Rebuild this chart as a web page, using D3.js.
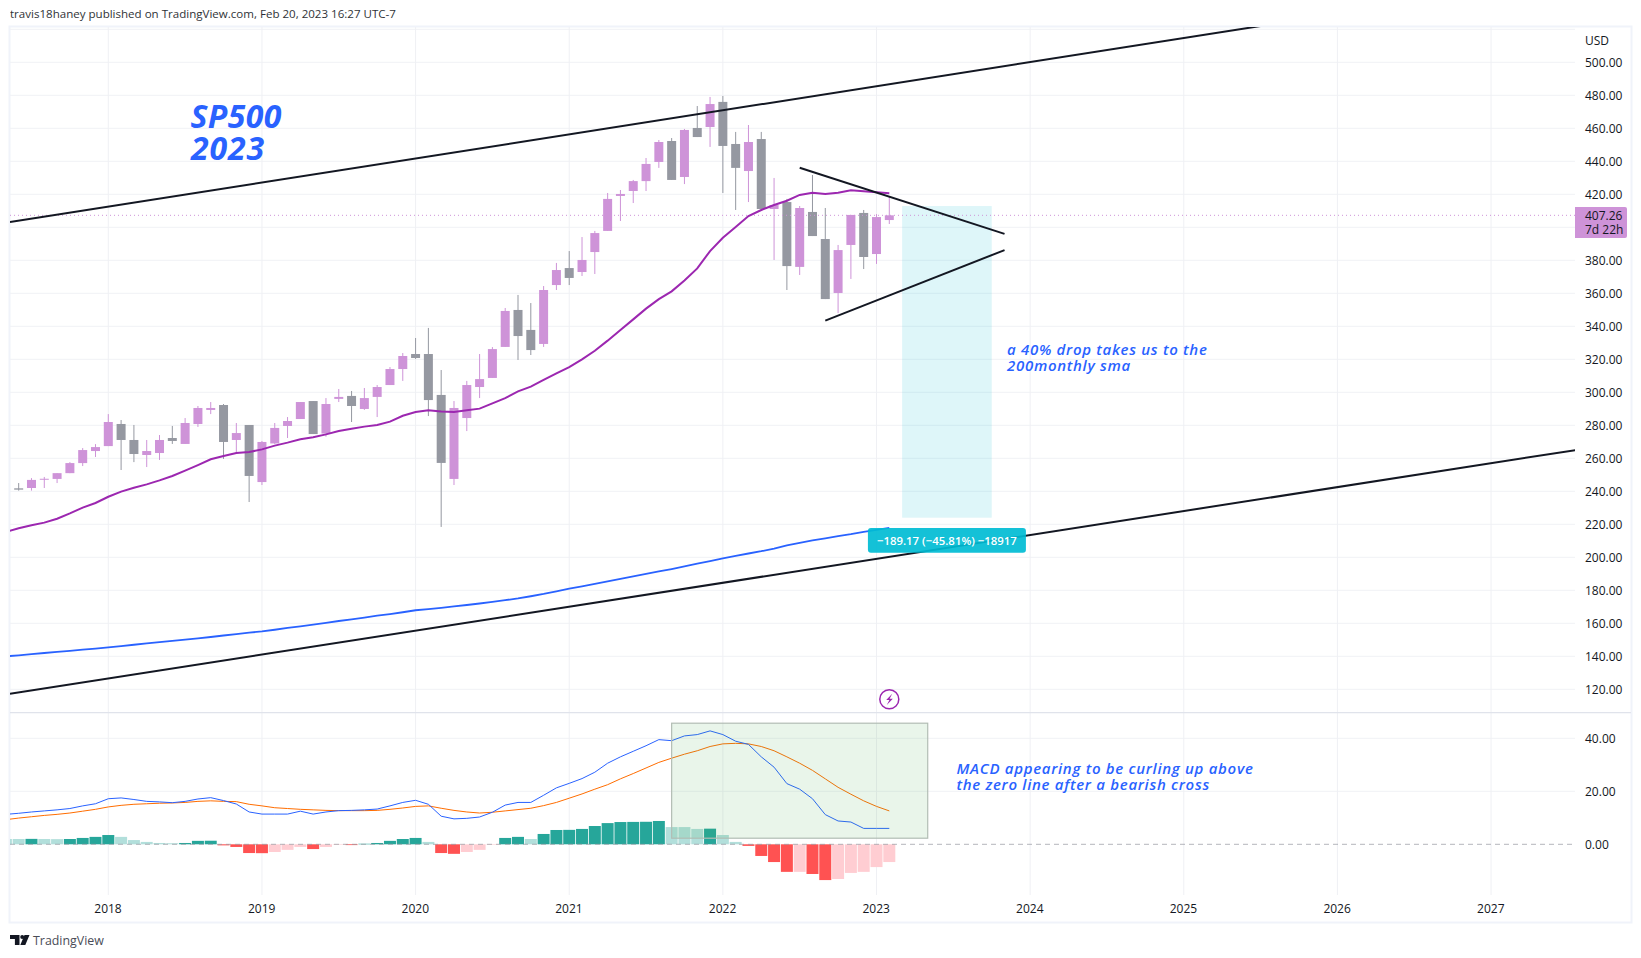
<!DOCTYPE html>
<html><head><meta charset="utf-8">
<script src="https://cdn.jsdelivr.net/npm/d3@7"></script>
<style>
html,body{margin:0;padding:0;background:#fff}
svg{display:block}
text{font-family:"Open Sans",sans-serif}
.axis text{font-size:12px;fill:#131722}
.axis path,.axis line{display:none}
</style></head><body><svg id="c" width="1641" height="958"></svg>
<script>
// month index: 0 = Jan 2018, one step per monthly bar
const firstLineIndex = -8, lastIndex = 61;
const yearIndex = [0,12,24,36,48,60,72,84,96,108];
const yearLabels = ["2018","2019","2020","2021","2022","2023","2024","2025","2026","2027"];
const priceTicks = [120,140,160,180,200,220,240,260,280,300,320,340,360,380,420,440,460,480,500];
const priceGrid = priceTicks.concat([400,520]);
const macdTicks = [0,20,40];

// candles, Jun 2017 .. Feb 2023
const opens = [241.8,242,247.2,247.5,251,257.1,264.4,267.4,280.8,271.1,262,263.2,272.3,268.7,280.8,289.3,292.3,271.1,280.2,245.6,269,279.6,283.8,294.7,275,296,297.8,289.9,297.2,304.4,314.1,323.2,323.2,298.4,247.5,284.4,303.2,308.7,327.5,349.9,337.8,329.3,365,375.3,372.9,385,397.8,419,422,428,439.6,452.3,430.5,460.2,460.8,476,450.5,434.1,453.5,411.1,415.3,376,409.3,392.9,360.2,389.3,408.7,383.8,404.4];
const closes = [241,246.9,247.6,251,257.1,265,266.8,282,271.1,262.6,264.4,271.1,270.5,281.4,290.5,290.5,269.9,275.3,249.3,269.9,278.4,282.6,294.1,274.7,292.9,297.2,291.7,296.5,303.2,314.1,322,320.8,295.3,257.2,290.5,304.4,308,326.2,349.3,334.1,325.6,362,374.1,369.3,380.2,396.5,417.2,420.2,428,438.4,451.7,428.7,459,454.7,474.7,449.3,436,451.7,411.1,413.5,376.5,411.7,394.7,356.5,386.2,407.5,382,406.2,407.26];
const highs = [245,248,248.7,251,257.7,266.2,268.6,286.8,283.2,280.2,271.1,274.1,279.6,284.4,291.7,294.1,292.9,281.4,280.2,270.5,281.4,285,294.1,294.7,296.5,302,300.8,302.6,304.4,315.3,323.8,332.9,339,313.5,294.7,306.9,323.2,327.4,351.1,359,354.1,364.4,378.4,385.6,394.1,397.8,420.8,422.6,428.7,442,452.9,454.1,459.6,473.5,479,479.6,457.8,462,457.8,429.9,417.2,412.9,431.7,411.7,389.3,407.5,410.5,408,419];
const lows = [240.4,240.4,242,245,251,255.3,260.8,267.4,252.9,257.7,254.7,259,268.7,268.7,279,286.8,259.6,263.2,233.5,243.8,268.7,272.3,283.8,274.7,273.1,294.1,282,289.3,285,304.4,306.9,320.2,285.6,218.4,243.8,276.5,296.5,308.7,327.5,319.6,322.6,327.5,362,365,370.5,371.7,397.8,403.8,414.7,422,436,428.7,426.2,454.7,448.7,420.8,410.5,415.3,411.1,380.2,362,371.1,394.7,356.5,348,368.7,374.7,377.8,402];

// overlays, May 2017 .. Feb 2023
const sma20 = [215.3,217.6,219.4,221,223.4,226.6,230.1,232.9,236.7,239.8,242.2,244.2,246.6,249.3,252.5,255.9,259.4,261.4,263.2,263.8,265.4,267.7,269.5,271.5,272.7,274.5,276.5,277.9,279.2,280.2,282.2,285.8,288,289.1,288.3,288.1,289.1,290.1,293.3,296.5,300.6,303.4,307.5,311.5,315.3,320,325.2,331.3,337.8,344.2,350.7,356.5,361.2,367.7,375.1,385.6,393.7,400.2,406.8,410.5,413.5,416.1,419.6,421,420.2,421,422.4,421.8,421.2,420.6];
const sma200 = [140,140.6,141.3,142,142.7,143.3,144,144.7,145.4,146.2,147,147.8,148.6,149.3,150.1,150.9,151.7,152.6,153.4,154.3,155.1,156.1,157.2,158.2,159.2,160.3,161.4,162.4,163.5,164.6,165.6,166.7,167.9,168.6,169.4,170.2,171.1,172,173,174,175.1,176.4,177.8,179.4,181,182.4,183.9,185.4,186.9,188.4,189.9,191.4,192.9,194.5,196.1,197.7,199.4,200.9,202.3,203.7,205.3,207.3,208.8,210.2,211.5,212.8,214,215.4,216.6,217.8];

// MACD pane, May 2017 .. Feb 2023
const macdLine = [11.3,11.7,12.2,12.6,13,13.5,14.5,15.3,17.2,17.5,16.9,16.2,16,15.7,16.2,17.1,17.6,16.5,15.2,12.2,11.4,11.4,11.4,12.5,11.4,12.2,12.7,12.8,13,13.3,14.5,15.8,16.6,15.1,10.6,9.6,9.8,10.3,12.1,14.8,15.8,15.8,18.5,21.3,23,24.8,27.2,30.6,33,35.1,37.2,39.5,39.1,40.9,41.4,42.8,41.4,38.9,37.7,33,29.1,22.9,20.8,17.2,11.2,8.8,8.4,6,6,6];
const signalLine = [9.3,9.9,10.4,10.9,11.3,11.8,12.5,13.2,14.1,14.7,15.1,15.3,15.5,15.6,15.8,16.2,16.4,16.2,16.1,15.1,14.5,13.8,13.5,13.2,13,12.8,12.7,12.7,12.7,12.8,13.2,13.7,14.3,14.5,13.6,12.8,12.2,11.8,12.1,12.6,13.1,13.6,14.6,15.8,17.4,19,20.8,22.5,24.7,26.7,28.8,30.9,32.5,34,35.3,36.9,37.9,38.1,37.9,36.9,35.3,33,30.6,27.9,24.7,21.5,18.9,16.4,14.3,12.6];
const histogram = [2,2,2.05,2,1.95,2,2.4,2.8,3.5,2.8,1.6,0.9,0.5,0.4,0.5,1.3,1.35,-0.4,-1,-3.3,-3.35,-2.9,-2.1,-1,-1.8,-1,-0.2,-0.3,0.2,0.5,1.3,2,2.4,0.9,-3.3,-3.6,-2.9,-2.1,-0.2,2.4,2.8,2,3.9,5.4,5.45,5.8,6.9,8,8.4,8.45,8.5,8.8,6.5,6.5,5.8,5.9,3.5,0.9,-0.6,-4.4,-6.7,-10.4,-10.4,-11.2,-13.5,-13.1,-10.8,-10.4,-8.6,-6.7];

// drawings as [month index, price]
const channelUpper = [[-7.68,403.2],[90,522]];
const channelLower = [[-7.68,117.3],[114.6,265]];
const wedgeUpper = [[54,436.1],[70,396]];
const wedgeLower = [[56,343.4],[70,386.2]];
const shortBox = [[62,412.9],[69,224]];
const macdBox = [[44,45.7],[64,2.3]];
const lastPrice = 407.26;

const x = d3.scaleLinear().domain([0,60]).range([108.3,876.5]);
const y = d3.scaleLinear().domain([120,500]).range([689.3,62.3]);
const m = d3.scaleLinear().domain([0,40]).range([844.3,738.3]);

const L=10, R=1575, T=27, SEP=712.7, B=895, FR=1631, FB=922;
const UP="#ce93d8", DOWN="#9598a1", GRID="#f1f2f6", BLUE="#2962ff", PURPLE="#9c27b0";
const svg = d3.select("#c");
const lineIdx = d3.range(firstLineIndex,lastIndex+1);
const candleIdx = d3.range(firstLineIndex+1,lastIndex+1);

const defs = svg.append("defs");
defs.append("clipPath").attr("id","cp").append("rect").attr("x",L).attr("y",T).attr("width",R-L).attr("height",SEP-T);
defs.append("clipPath").attr("id","cm").append("rect").attr("x",L).attr("y",SEP).attr("width",R-L).attr("height",B-SEP);

svg.append("text").attr("x",10).attr("y",18).attr("font-size",11.55).attr("fill","#131722").attr("opacity",.9)
  .text("travis18haney published on TradingView.com, Feb 20, 2023 16:27 UTC-7");

// frame
svg.append("rect").attr("x",L-0.5).attr("y",T-0.5).attr("width",FR-L+1).attr("height",FB-T+1)
  .attr("fill","none").attr("stroke","#f0f3fa").attr("stroke-width",2);

// grids
const g = svg.append("g");
g.selectAll(".h").data(priceGrid).join("line").attr("x1",L).attr("x2",R)
  .attr("y1",d=>y(d)).attr("y2",d=>y(d)).attr("stroke",GRID).attr("clip-path","url(#cp)");
g.selectAll(".hm").data(macdTicks.filter(d=>d)).join("line").attr("class","hm").attr("x1",L).attr("x2",R)
  .attr("y1",d=>m(d)).attr("y2",d=>m(d)).attr("stroke",GRID);
g.selectAll(".v").data(yearIndex).join("line").attr("class","v").attr("x1",d=>x(d)).attr("x2",d=>x(d))
  .attr("y1",T).attr("y2",B).attr("stroke","#eff0f4");
svg.append("line").attr("x1",L).attr("x2",FR).attr("y1",SEP).attr("y2",SEP).attr("stroke","#e0e3eb").attr("stroke-width",1.2);

// MACD pane
const pm = svg.append("g").attr("clip-path","url(#cm)");
function histColor(v,i){const p=histogram[i-1];
  if(v>=0) return (p!==undefined&&v>p)?"#26a69a":"#b2dfdb";
  return (p!==undefined&&v<p)?"#ff5252":"#ffcdd2";}
pm.selectAll(".b").data(histogram).join("rect").attr("class","b")
  .attr("x",(d,i)=>x(lineIdx[i])-6).attr("width",12)
  .attr("y",d=>Math.min(m(d),m(0))).attr("height",d=>Math.abs(m(d)-m(0)))
  .attr("fill",histColor);
pm.append("line").attr("x1",L).attr("x2",R).attr("y1",m(0)).attr("y2",m(0))
  .attr("stroke","#9598a1").attr("stroke-dasharray","5 4").attr("opacity",.7);
const lineM = vals=>d3.line().x((d,i)=>x(lineIdx[i])).y(d=>m(d))(vals);
pm.append("path").attr("d",lineM(signalLine)).attr("fill","none").attr("stroke","#ff6d00").attr("stroke-width",1);
pm.append("path").attr("d",lineM(macdLine)).attr("fill","none").attr("stroke",BLUE).attr("stroke-width",1);
svg.append("rect").attr("x",x(macdBox[0][0])).attr("y",m(macdBox[0][1]))
  .attr("width",x(macdBox[1][0])-x(macdBox[0][0])).attr("height",m(macdBox[1][1])-m(macdBox[0][1]))
  .attr("fill","rgba(76,175,80,0.12)").attr("stroke","#b2bdb4").attr("stroke-width",1.2);

// price pane
const pp = svg.append("g").attr("clip-path","url(#cp)");
pp.append("rect").attr("x",x(shortBox[0][0])).attr("y",y(shortBox[0][1]))
  .attr("width",x(shortBox[1][0])-x(shortBox[0][0])).attr("height",y(shortBox[1][1])-y(shortBox[0][1]))
  .attr("fill","rgba(0,188,212,0.13)");
const col=i=>closes[i]<opens[i]?DOWN:UP;
pp.selectAll(".w").data(candleIdx).join("line").attr("class","w")
  .attr("x1",d=>x(d)).attr("x2",d=>x(d))
  .attr("y1",(d,i)=>y(highs[i])).attr("y2",(d,i)=>y(lows[i]))
  .attr("stroke",(d,i)=>col(i)).attr("stroke-width",1);
pp.selectAll(".c").data(candleIdx).join("rect").attr("class","c")
  .attr("x",d=>x(d)-4.5).attr("width",9)
  .attr("y",(d,i)=>y(Math.max(opens[i],closes[i])))
  .attr("height",(d,i)=>Math.max(1,Math.abs(y(opens[i])-y(closes[i]))))
  .attr("fill",(d,i)=>col(i));
pp.append("line").attr("x1",L).attr("x2",R).attr("y1",y(lastPrice)).attr("y2",y(lastPrice))
  .attr("stroke",UP).attr("stroke-dasharray","1 3");
const lineP = vals=>d3.line().x((d,i)=>x(lineIdx[i])).y(d=>y(d))(vals);
pp.append("path").attr("d",lineP(sma200)).attr("fill","none").attr("stroke",BLUE).attr("stroke-width",1.8);
pp.append("path").attr("d",lineP(sma20)).attr("fill","none").attr("stroke",PURPLE).attr("stroke-width",2);
const seg = d3.line().x(d=>x(d[0])).y(d=>y(d[1]));
[channelUpper,channelLower,wedgeUpper,wedgeLower].forEach(s=>
  pp.append("path").attr("d",seg(s)).attr("fill","none").attr("stroke","#131722").attr("stroke-width",2));

// measuring label
const lcx=(x(shortBox[0][0])+x(shortBox[1][0]))/2;
svg.append("rect").attr("x",lcx-79).attr("y",528).attr("width",158).attr("height",24.7).attr("rx",3).attr("fill","#00bcd4").attr("opacity",.92);
svg.append("text").attr("x",lcx).attr("y",544.5).attr("text-anchor","middle").attr("font-size",11.4).attr("font-weight",600).attr("fill","#fff")
  .text("\u2212189.17 (\u221245.81%) \u221218917");

// texts
const note=(t,px,py,fs,w,ls)=>svg.append("text").attr("x",px).attr("y",py).attr("font-size",fs).attr("font-weight",w)
  .attr("font-style","italic").attr("letter-spacing",ls).attr("fill",BLUE).text(t);
note("SP500",190.5,128,32,700,0.4);
note("2023",191,160,32,700,0.9);
note("a 40% drop takes us to the",1007,355,15,600,0.7);
note("200monthly sma",1007,371,15,600,0.7);
note("MACD appearing to be curling up above",956.5,774,15,600,0.7);
note("the zero line after a bearish cross",956.5,790,15,600,0.7);

// lightning marker
svg.append("circle").attr("cx",889.3).attr("cy",699.3).attr("r",9.5).attr("fill","#fff").attr("stroke",PURPLE).attr("stroke-width",1.5);
svg.append("path").attr("d","M892.2 693.8l-6 6.3h3.2l-2.6 4.9 6-6.3h-3.2z").attr("fill",PURPLE);

// axes
const ya=svg.append("g").attr("class","axis").attr("transform",`translate(${R},0)`)
  .call(d3.axisRight(y).tickValues(priceTicks).tickFormat(d3.format(".2f")).tickSize(0).tickPadding(10));
const ma=svg.append("g").attr("class","axis").attr("transform",`translate(${R},0)`)
  .call(d3.axisRight(m).tickValues(macdTicks).tickFormat(d3.format(".2f")).tickSize(0).tickPadding(10));
const xa=svg.append("g").attr("class","axis").attr("transform",`translate(0,${B})`)
  .call(d3.axisBottom(x).tickValues(yearIndex).tickFormat((d,i)=>yearLabels[i]).tickSize(0).tickPadding(9));
xa.attr("transform",`translate(-0.8,${B})`);
svg.append("text").attr("x",1585).attr("y",45).attr("font-size",12).attr("fill","#131722").text("USD");
svg.append("path").attr("d","M1575 207h50a2 2 0 0 1 2 2v27a2 2 0 0 1-2 2h-50z").attr("fill",UP);
svg.append("text").attr("x",1585).attr("y",220).attr("font-size",12).attr("fill","#131722").text("407.26");
svg.append("text").attr("x",1585).attr("y",234).attr("font-size",12).attr("fill","#131722").text("7d 22h");

// logo
svg.append("path").attr("d","M10 935h9.5v10h-4.6v-6H10zM29.5 935l-4.2 10h-5l4.2-10z").attr("fill","#131722");
svg.append("circle").attr("cx",22.2).attr("cy",937).attr("r",2).attr("fill","#131722");
svg.append("text").attr("x",33).attr("y",944.5).attr("font-size",12.4).attr("fill","#4a4d57").text("TradingView");
</script></body></html>
